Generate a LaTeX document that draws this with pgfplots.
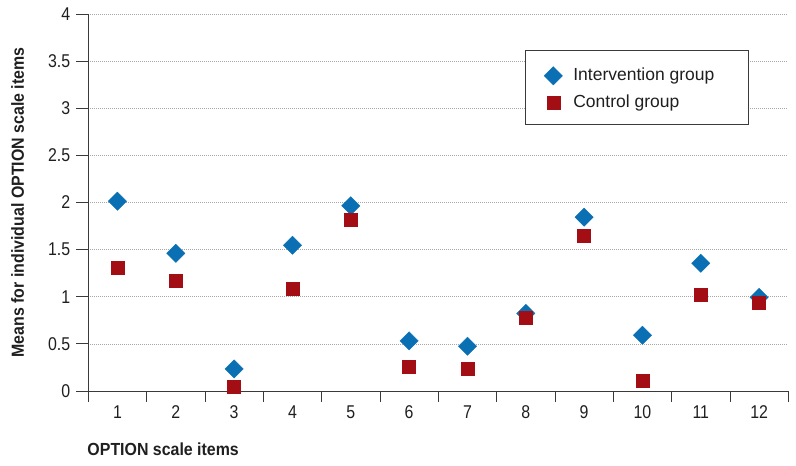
\documentclass[border=0pt]{standalone}
\usepackage{fontspec}
\setmainfont{Liberation Sans}[FakeStretch=0.86, BoldFeatures={FakeStretch=0.91}]
\newfontfamily\legfont{Liberation Sans}
\usepackage{pgfplots}
\pgfplotsset{compat=1.18}
\definecolor{iblue}{HTML}{0A70B3}
\definecolor{cred}{HTML}{A20E13}
\definecolor{axgray}{HTML}{3A3A3A}
\begin{document}
\fontsize{17.5}{21}\selectfont
\begin{tikzpicture}
\useasboundingbox (-88.3pt,-75pt) rectangle (707.7pt,391pt);
\begin{axis}[
  anchor=south west, at={(0pt,0pt)},
  scale only axis, width=700pt, height=377pt,
  xmin=0.5, xmax=12.5, ymin=0, ymax=4,
  clip=false,
  axis lines=left,
  axis line style={-, draw=axgray, line width=0.8pt},
  every tick/.style={draw=axgray, line width=0.8pt},
  tick align=outside,
  xtick={1,2,3,4,5,6,7,8,9,10,11,12},
  minor xtick={0.5,1.5,2.5,3.5,4.5,5.5,6.5,7.5,8.5,9.5,10.5,11.5,12.5},
  major x tick style={draw=none},
  ytick={0,0.5,1,1.5,2,2.5,3,3.5,4},
  major tick length=12pt,
  minor tick length=11pt,
  ymajorgrids,
  grid style={draw=gray!70, dash pattern=on 1pt off 1pt, line width=0.7pt},
  /pgf/number format/assume math mode=true,
  tick label style={font=\fontsize{18.5}{22}\selectfont, text=black!88},
  xticklabel style={yshift=3pt},
  xlabel={OPTION scale items},
  ylabel={Means for individual OPTION scale items},
  xlabel style={at={(rel axis cs:0,0)}, anchor=north west, yshift=-52pt, xshift=-1pt, inner sep=0pt, font=\fontsize{17.5}{21}\selectfont\bfseries, text=black!88},
  ylabel style={at={(rel axis cs:0,0.5)}, anchor=north, yshift=77.3pt, inner sep=0pt, font=\fontsize{17.5}{21}\selectfont\bfseries, text=black!88},
  legend style={at={(rel axis cs:0.6239,0.9045)}, anchor=north west, draw=axgray, line width=0.6pt, inner xsep=8pt, inner ysep=10.5pt, row sep=1pt, font={\legfont\fontsize{17.5}{21}\selectfont}, text=black!88},
  legend cell align=left,
  legend image code/.code={\draw[#1] plot coordinates {(0pt,0pt)}; \path[draw=none,fill=none] (-20pt,-11pt) rectangle (18pt,15pt);},
]
\addplot[only marks, mark=square*, mark size=6.5pt, color=iblue, mark options={rotate=45, fill=iblue, draw=iblue, line width=0.3pt}]
coordinates {
(1,2.014) (2,1.461) (3,0.234) (4,1.546) (5,1.965) (6,0.532)
(7,0.475) (8,0.823) (9,1.844) (10,0.592) (11,1.355) (12,0.993)
};
\addlegendentry{Intervention group\hspace*{24pt}}
\addplot[only marks, mark=square*, mark size=6.5pt, color=cred, mark options={fill=cred, draw=cred, line width=0.3pt}]
coordinates {
(1,1.305) (2,1.167) (3,0.046) (4,1.089) (5,1.816) (6,0.262)
(7,0.241) (8,0.777) (9,1.652) (10,0.113) (11,1.018) (12,0.936)
};
\addlegendentry{Control group}
\end{axis}
\end{tikzpicture}
\end{document}
